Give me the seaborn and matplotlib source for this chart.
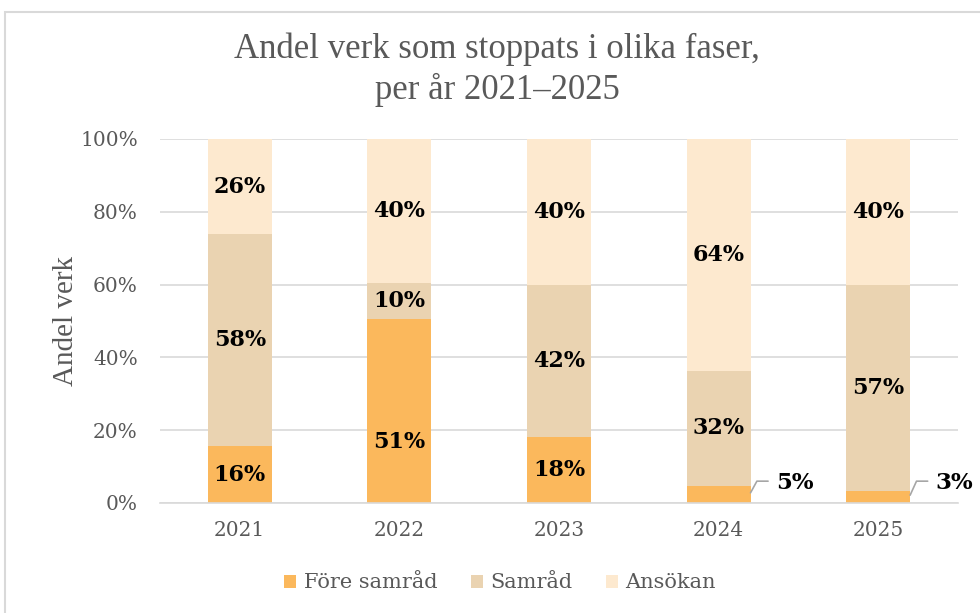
import pandas as pd
import matplotlib.pyplot as plt
from matplotlib.patches import Rectangle, Patch
import seaborn as sns

# data (percent of verk per phase)
years = ['2021', '2022', '2023', '2024', '2025']
fore_samrad = [15.6, 50.6, 18.2, 4.6, 3.3]
samrad = [58.2, 9.9, 41.8, 31.8, 56.7]
ansokan = [26.2, 39.6, 40.0, 63.6, 40.0]
series_names = ['Före samråd', 'Samråd', 'Ansökan']
colors = ['#FBB85C', '#EAD3B1', '#FDE9CF']
y_ticks = [0, 20, 40, 60, 80, 100]

gray = '#595959'
serif = ['DejaVu Serif']
title_font = ['Liberation Serif', 'DejaVu Serif']

sns.set_style('white')
plt.rcParams['font.family'] = serif

df = pd.DataFrame({'year': years, 'fore': fore_samrad, 'samrad': samrad, 'ansokan': ansokan})

fig = plt.figure(figsize=(9.8, 6.13), dpi=100)
ax = fig.add_axes([160 / 980, 1 - 503 / 613, 798 / 980, 364 / 613])

# stacked bars
bottoms = [0] * len(years)
layers = [('fore', 0), ('samrad', 1), ('ansokan', 2)]
for col, i in layers:
    sns.barplot(data=df, x='year', y=col, color=colors[i], width=0.4,
                bottom=bottoms, saturation=1, ax=ax, zorder=2, linewidth=0)
    bottoms = [b + v for b, v in zip(bottoms, df[col])]

# data labels
label_y_override = {(1, 0): 16.8}
for j in range(len(years)):
    base = 0
    for col, i in layers:
        v = df[col][j]
        txt = f"{v:.0f}%"
        if v < 8:
            # small segment: label outside with leader line
            y0 = base + v / 2 + 0.5
            ax.plot([j + 0.2, j + 0.24, j + 0.31], [y0, 6.0, 6.0],
                    color='#A6A6A6', lw=1.2, zorder=3, clip_on=False)
            ax.text(j + 0.36, 5.6, txt, ha='left', va='center',
                    fontsize=16.5, fontweight='bold', color='black', clip_on=False)
        else:
            y = label_y_override.get((j, i), base + v / 2)
            ax.text(j, y, txt, ha='center', va='center',
                    fontsize=16, fontweight='bold', color='black', zorder=4)
        base += v

ax.set_xlim(-0.5, 4.5)
ax.set_ylim(0, 100)
ax.set_yticks(y_ticks)
ax.set_yticklabels([f"{t}%" for t in y_ticks])
ax.yaxis.grid(True, color='#D9D9D9', lw=1.2, zorder=0)
ax.set_axisbelow(True)
for s in ['top', 'right', 'left']:
    ax.spines[s].set_visible(False)
ax.spines['bottom'].set_color('#D9D9D9')
ax.spines['bottom'].set_linewidth(1.2)
ax.tick_params(axis='both', length=0, labelsize=14.5, colors=gray)
ax.tick_params(axis='x', pad=13)
ax.tick_params(axis='y', pad=16)
ax.set_xlabel('')
ax.set_ylabel('Andel verk', fontsize=21, color=gray, family=title_font, labelpad=1)

fig.text(497 / 980, 1 - 70 / 613, 'Andel verk som stoppats i olika faser,\nper år 2021–2025',
         ha='center', va='center', fontsize=25, color=gray, family=title_font,
         linespacing=1.25)

handles = [Patch(facecolor=c, edgecolor='none') for c in colors]
fig.legend(handles, series_names, loc='center', bbox_to_anchor=(500 / 980, 1 - 583 / 613),
           ncol=3, frameon=False, fontsize=15, handlelength=0.6, handleheight=0.6,
           handletextpad=0.35, columnspacing=1.6, labelcolor=gray)

# chart border
fig.patches.append(Rectangle((5 / 980, -0.1), 1.2, 1.1 - 12 / 613, transform=fig.transFigure,
                             fill=False, edgecolor='#D9D9D9', lw=1.5))

fig.savefig('out.png', dpi=100)
